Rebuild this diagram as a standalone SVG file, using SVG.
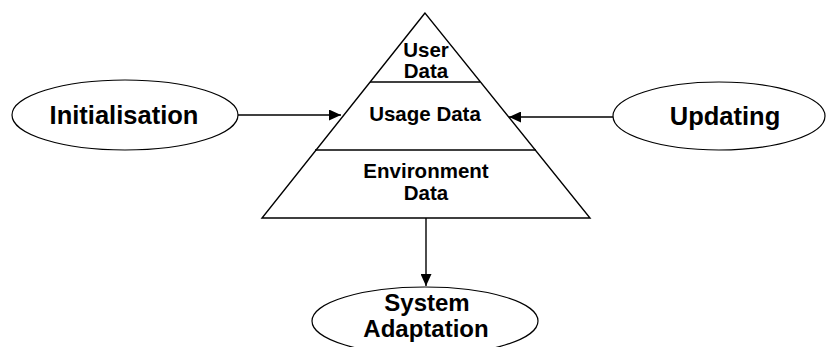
<svg xmlns="http://www.w3.org/2000/svg" width="828" height="347" viewBox="0 0 828 347">
<style>
.s{fill:none;stroke:#000;stroke-width:1.4}
.e{fill:#fff;stroke:#000;stroke-width:1.2}
.t{font-family:"Liberation Sans",Arial,sans-serif;font-weight:bold;fill:#000;text-anchor:middle}
.big{font-size:25.5px}
.sa{font-size:24px}
.sm{font-size:20.5px}
</style>
<defs>
<marker id="ah" markerWidth="13" markerHeight="11" refX="12" refY="5.5" orient="auto" markerUnits="userSpaceOnUse">
<path d="M0,0 L12,5.5 L0,11 Z" fill="#000"/>
</marker>
</defs>
<rect width="828" height="347" fill="#fff"/>
<g id="pyramid">
<path class="s" d="M425,13 L262,218 L590,218 Z"/>
<line class="s" x1="370" y1="82" x2="480" y2="82"/>
<line class="s" x1="315" y1="150" x2="536" y2="150"/>
<text class="t sm" x="426" y="57">User</text>
<text class="t sm" x="426" y="78">Data</text>
<text class="t sm" x="425" y="121">Usage Data</text>
<text class="t sm" x="426" y="178">Environment</text>
<text class="t sm" x="426" y="200">Data</text>
</g>
<g id="initialisation">
<ellipse class="e" cx="125" cy="115" rx="113" ry="35"/>
<text class="t big" x="124" y="124">Initialisation</text>
</g>
<g id="updating">
<ellipse class="e" cx="719" cy="116" rx="106" ry="34"/>
<text class="t big" x="725" y="125">Updating</text>
</g>
<g id="adaptation">
<ellipse class="e" cx="425" cy="321" rx="113" ry="34"/>
<text class="t sa" x="427" y="311">System</text>
<text class="t sa" x="426" y="337">Adaptation</text>
</g>
<g id="connectors">
<line class="s" x1="238" y1="115" x2="341" y2="115" marker-end="url(#ah)"/>
<line class="s" x1="613" y1="117" x2="509" y2="117" marker-end="url(#ah)"/>
<line class="s" x1="426" y1="218" x2="426" y2="286" marker-end="url(#ah)"/>
</g>
</svg>
